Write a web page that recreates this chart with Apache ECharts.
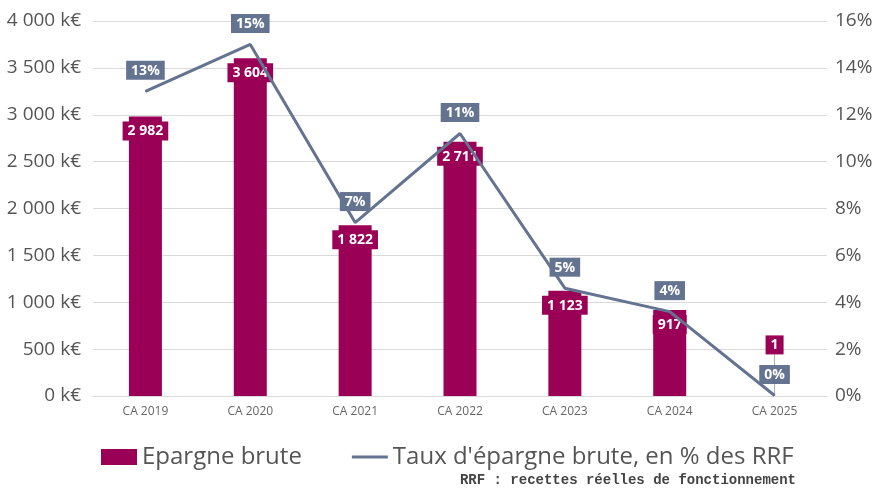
<!DOCTYPE html>
<html>
<head>
<meta charset="utf-8">
<script src="https://cdn.jsdelivr.net/npm/echarts@6/dist/echarts.min.js"></script>
<style>
  html, body { margin: 0; padding: 0; background: #fff; }
  #chart { width: 881px; height: 494px; }
</style>
</head>
<body>
<div id="chart"></div>
<script>
// données
var categories = ['CA 2019', 'CA 2020', 'CA 2021', 'CA 2022', 'CA 2023', 'CA 2024', 'CA 2025'];
var epargneBrute = [2982, 3604, 1822, 2711, 1123, 917, 1];        // k€
var tauxEpargne = [13.0, 15.0, 7.4, 11.2, 4.6, 3.6, 0.02];         // % des RRF
var tauxLabels = ['13%', '15%', '7%', '11%', '5%', '4%', '0%'];

var BAR = '#9b0057';
var LINE = '#64738f';
var FONT = 'Open Sans';

function fmtK(v) {
  return String(v).replace(/\B(?=(\d{3})+(?!\d))/g, ' ');
}

var myChart = echarts.init(document.getElementById('chart'));

var option = {
  animation: false,
  textStyle: { fontFamily: FONT },
  grid: {
    left: 93,
    right: 54,
    top: 21,
    bottom: 98
  },
  legend: {
    data: [
      { name: 'Epargne brute', icon: 'rect' },
      { name: "Taux d'épargne brute, en % des RRF", icon: 'path://M0,0h36v3h-36z' }
    ],
    bottom: 20,
    left: 96,
    itemGap: 50,
    itemWidth: 36,
    itemHeight: 16,
    selectedMode: false,
    textStyle: { fontFamily: FONT, fontSize: 24, color: '#555' }
  },
  title: {
    text: 'RRF : recettes réelles de fonctionnement',
    right: 80,
    bottom: 2,
    textStyle: {
      fontFamily: 'Liberation Mono',
      fontWeight: 'bold',
      fontSize: 14,
      color: '#444'
    }
  },
  xAxis: {
    type: 'category',
    data: categories,
    axisLine: { show: true, lineStyle: { color: '#d9d9d9', width: 1 } },
    axisTick: { show: false },
    axisLabel: { color: '#666', fontSize: 12, margin: 10, fontFamily: FONT }
  },
  yAxis: [
    {
      type: 'value',
      min: 0,
      max: 4000,
      interval: 500,
      axisLine: { show: false },
      axisTick: { show: false },
      axisLabel: {
        color: '#555',
        fontSize: 19,
        margin: 12,
        fontFamily: FONT,
        formatter: function (v) { return fmtK(v) + ' k€'; }
      },
      splitLine: { lineStyle: { color: '#d9d9d9', width: 1 } }
    },
    {
      type: 'value',
      min: 0,
      max: 16,
      interval: 2,
      axisLine: { show: false },
      axisTick: { show: false },
      axisLabel: {
        color: '#555',
        fontSize: 19,
        margin: 8,
        fontFamily: FONT,
        formatter: '{value}%'
      },
      splitLine: { show: false }
    }
  ],
  series: [
    {
      name: 'Epargne brute',
      type: 'bar',
      barWidth: 33,
      itemStyle: { color: BAR },
      z: 2,
      label: {
        show: true,
        position: 'insideTop',
        distance: 5,
        color: '#fff',
        fontWeight: 'bold',
        fontSize: 14,
        fontFamily: FONT,
        backgroundColor: BAR,
        padding: [3, 5, 2, 5],
        formatter: function (p) { return fmtK(p.value); }
      },
      labelLayout: function (p) {
        // très petite valeur : étiquette remontée au-dessus de la barre
        if (epargneBrute[p.dataIndex] < 100) {
          return {
            x: p.rect.x + p.rect.width / 2,
            y: p.rect.y - 51,
            align: 'center',
            verticalAlign: 'middle'
          };
        }
      },
      labelLine: { show: true, lineStyle: { color: '#aaa', width: 1 } },
      data: epargneBrute
    },
    {
      name: "Taux d'épargne brute, en % des RRF",
      type: 'line',
      yAxisIndex: 1,
      symbol: 'circle',
      symbolSize: 1,
      showSymbol: true,
      z: 3,
      lineStyle: { color: LINE, width: 3 },
      itemStyle: { color: LINE },
      label: {
        show: true,
        position: 'top',
        distance: 11,
        color: '#fff',
        fontWeight: 'bold',
        fontSize: 14,
        fontFamily: FONT,
        backgroundColor: LINE,
        padding: [3, 5, 2, 5],
        formatter: function (p) { return tauxLabels[p.dataIndex]; }
      },
      data: tauxEpargne
    }
  ]
};

myChart.setOption(option);
</script>
</body>
</html>
